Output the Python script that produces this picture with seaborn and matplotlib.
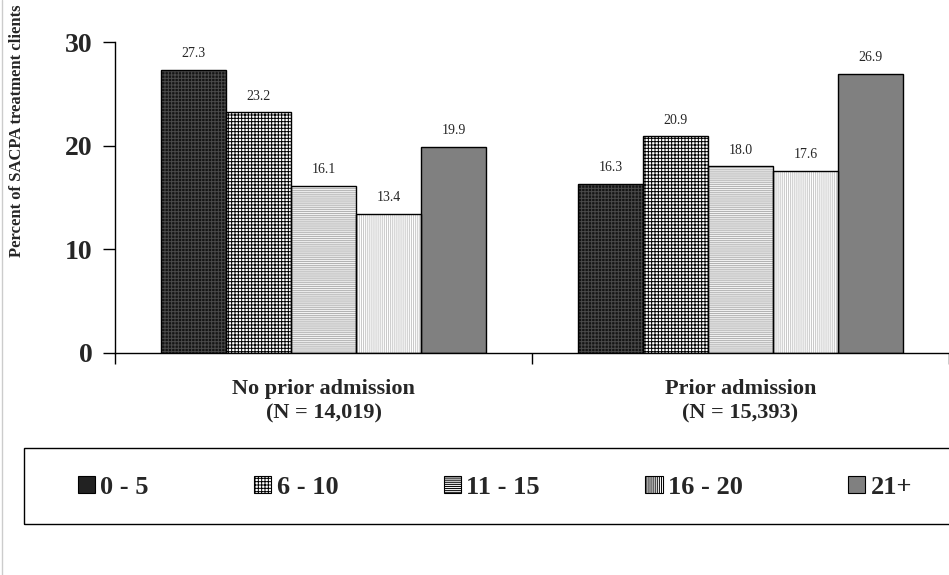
import matplotlib
matplotlib.use("Agg")
import matplotlib.pyplot as plt
from matplotlib.patches import Rectangle, Patch
from matplotlib.lines import Line2D
import seaborn as sns
import pandas as pd

groups = ["No prior admission\n(N = 14,019)", "Prior admission\n(N = 15,393)"]
categories = ["0 - 5", "6 - 10", "11 - 15", "16 - 20", "21+"]
no_prior = [27.3, 23.2, 16.1, 13.4, 19.9]
prior = [16.3, 20.9, 18.0, 17.6, 26.9]

rows = []
for g, vals in zip(groups, [no_prior, prior]):
    for c, v in zip(categories, vals):
        rows.append({"group": g, "cat": c, "pct": v})
df = pd.DataFrame(rows)

sns.set_theme(style="white")
plt.rcParams["font.family"] = ["Liberation Serif", "DejaVu Serif"]
plt.rcParams["hatch.linewidth"] = 0.7

faces = ["#141414", "#ffffff", "#f2f2f2", "#ffffff", "#808080"]
hatch_cols = ["#4a4a4a", "#000000", "#b0b0b0", "#c8c8c8", "#808080"]
hatches = ["+++++", "+++++", "--------", "||||||||", None]

fig = plt.figure(figsize=(9.49, 5.75), dpi=100)
ax = fig.add_axes([115 / 949, 1 - 353 / 575, 834 / 949, (353 - 42) / 575])

sns.barplot(data=df, x="group", y="pct", hue="cat", hue_order=categories,
            palette=faces, width=0.78, gap=0, saturation=1, ax=ax, legend=False)

for i, cont in enumerate(ax.containers):
    for p in cont.patches:
        p.set_facecolor(faces[i])
        p.set_edgecolor(hatch_cols[i])
        p.set_linewidth(0)
        if hatches[i]:
            p.set_hatch(hatches[i])
        ax.add_patch(Rectangle((p.get_x(), p.get_y()), p.get_width(), p.get_height(),
                               fill=False, edgecolor="black", linewidth=1, zorder=3))
    ax.bar_label(cont, fmt="%.1f", padding=7, fontsize=10)

ax.set_ylim(0, 30)
ax.set_xlim(-0.5, 1.5)
ax.set_yticks([0, 10, 20, 30])
ax.set_yticklabels(["0", "10", "20", "30"], fontsize=20, fontweight="bold")
ax.set_xticks([0, 1])
ax.set_xticklabels(groups, fontsize=16, fontweight="bold", linespacing=1.25)
ax.set_xticks([-0.5, 0.5, 1.5], minor=True)
ax.tick_params(axis="x", which="major", length=0, pad=19)
ax.tick_params(axis="x", which="minor", length=8, width=1, color="black", direction="out", bottom=True)
ax.tick_params(axis="y", length=9, width=1, color="black", direction="out", left=True, pad=7)
ax.set_xlabel("")
ax.set_ylabel("Percent of SACPA treatment clients", fontsize=12, fontweight="bold")
ax.yaxis.set_label_coords(-0.118, 0.715, transform=ax.transAxes)
ax.yaxis.label.set_va("center")
for s in ["top", "right"]:
    ax.spines[s].set_visible(False)
for s in ["left", "bottom"]:
    ax.spines[s].set_color("black")
    ax.spines[s].set_linewidth(1)

handles = [Patch(facecolor=faces[i], edgecolor="black", hatch=hatches[i], linewidth=0.8)
           for i in range(len(categories))]
handles[0] = Patch(facecolor="#222222", edgecolor="#000000", linewidth=0.8)
leg = fig.legend(handles, categories, loc="center", ncol=5,
                 bbox_to_anchor=(495 / 949, 1 - 487 / 575),
                 prop={"family": "Liberation Serif", "weight": "bold", "size": 19},
                 handlelength=0.65, handleheight=0.62, handletextpad=0.2,
                 columnspacing=4.0, borderaxespad=0, borderpad=0, frameon=False)

fig.add_artist(Rectangle((24 / 949, 1 - 524 / 575), 940 / 949, 76 / 575,
                         transform=fig.transFigure, fill=False,
                         edgecolor="black", linewidth=1))
fig.add_artist(Line2D([2 / 949, 2 / 949], [0, 1], transform=fig.transFigure,
                      color="#cccccc", linewidth=1))

fig.savefig("out.png", dpi=100)
